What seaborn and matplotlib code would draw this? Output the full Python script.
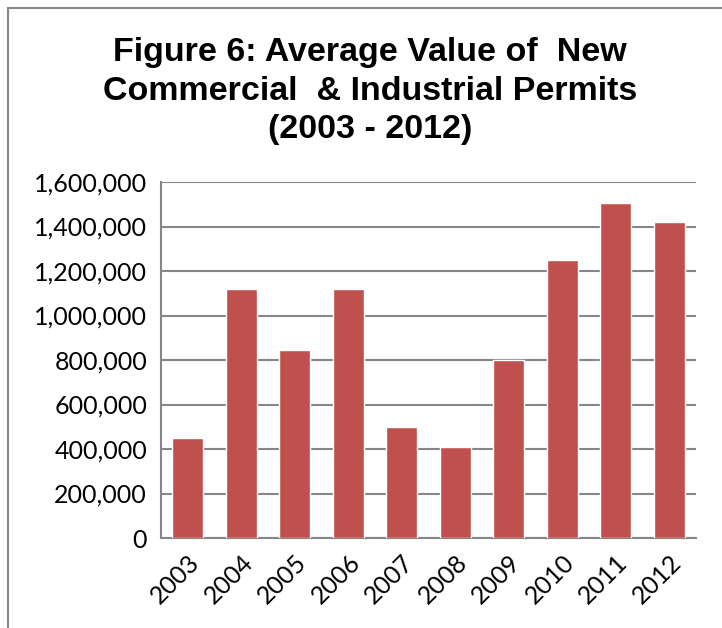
import matplotlib
matplotlib.use("Agg")
import matplotlib.pyplot as plt
import seaborn as sns
import pandas as pd
from matplotlib.ticker import FuncFormatter, MultipleLocator
from matplotlib.patches import Rectangle

years = ["2003", "2004", "2005", "2006", "2007", "2008", "2009", "2010", "2011", "2012"]
values = [451000, 1118000, 846000, 1121000, 500000, 410000, 798000, 1251000, 1504000, 1422000]
title = "Figure 6: Average Value of  New\nCommercial  & Industrial Permits\n(2003 - 2012)"

sns.set_theme(style="white")
plt.rcParams['font.family'] = ['Lato', 'DejaVu Sans']

df = pd.DataFrame({"year": years, "value": values})

fig = plt.figure(figsize=(7.22, 6.28), dpi=100)
ax = fig.add_axes([161/722, 1 - 538/628, (696-161)/722, (538-182)/628])

sns.barplot(data=df, x="year", y="value", color="#C0504D", width=0.58,
            saturation=1, ax=ax, zorder=3)

ax.set_ylim(0, 1600000)
ax.set_xlim(-0.5, 9.5)
ax.yaxis.set_major_locator(MultipleLocator(200000))
ax.yaxis.set_major_formatter(FuncFormatter(lambda v, p: f"{int(v):,}"))
ax.grid(axis="y", color="#868686", linewidth=1.5, zorder=0)
ax.set_axisbelow(True)
for s in ["top", "right"]:
    ax.spines[s].set_visible(False)
for s in ["left", "bottom"]:
    ax.spines[s].set_color("#868686")
    ax.spines[s].set_linewidth(1.5)
ax.set_xlabel("")
ax.set_ylabel("")
ax.tick_params(axis="y", labelsize=18, labelcolor="black", length=0, pad=10)
ax.tick_params(axis="x", labelsize=18, labelcolor="black", length=0, pad=9)
for lab in ax.get_xticklabels():
    lab.set_rotation(45)
    lab.set_ha("right")
    lab.set_rotation_mode("anchor")

fig.text(370/722, 1 - 91/628, title, ha="center", va="center", fontsize=24.5,
         fontweight="bold", color="black", family=["Liberation Sans", "DejaVu Sans"],
         linespacing=1.3)

fig.patches.append(Rectangle((8/722, -0.1), 1.2, 1 - 8/628 + 0.1, transform=fig.transFigure,
                             fill=False, edgecolor="#888888", linewidth=1.5))

fig.savefig("out.png", dpi=100)
